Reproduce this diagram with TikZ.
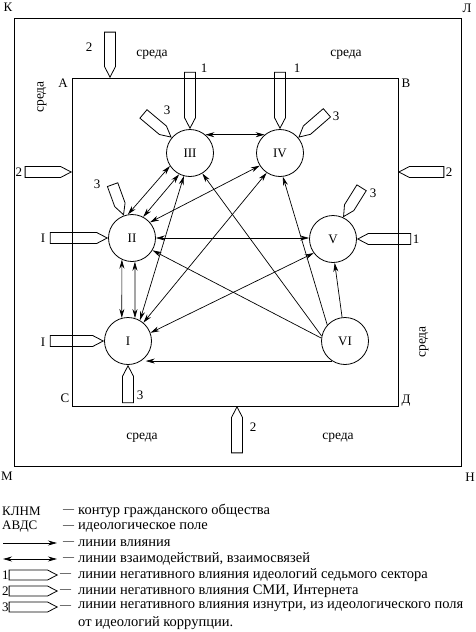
\documentclass[tikz,border=0pt]{standalone}
\usepackage{fontspec}
\setmainfont{Liberation Serif}
\usetikzlibrary{arrows.meta, shapes.arrows}

\tikzset{every node/.append style={align=center}}
\tikzset{
  sect/.style={circle, draw, line width=0.8pt, minimum size=47pt, inner sep=0pt,
    font=\fontsize{13}{15}\selectfont},
  neg/.style={single arrow, draw, line width=0.8pt, minimum width=11pt, inner sep=0pt,
    single arrow head extend=0pt, single arrow tip angle=55},
  infl/.style={-{Stealth[length=9pt,width=5pt]}, line width=0.7pt},
  link/.style={{Stealth[length=9pt,width=5pt]}-{Stealth[length=9pt,width=5pt]}, line width=0.7pt},
  frame/.style={line width=0.9pt},
  lbl/.style={font=\fontsize{13}{15}\selectfont, inner sep=0pt},
  env/.style={font=\fontsize{13.5}{16}\selectfont, inner sep=0pt},
  leg/.style={font=\fontsize{13}{15}\selectfont, inner sep=0pt, anchor=west},
  legdash/.style={font=\fontsize{11}{15}\selectfont, inner sep=0pt, anchor=west},
  legtxt/.style={font=\fontsize{14.5}{16}\selectfont, inner sep=0pt, anchor=west}
}

\begin{document}
\begin{tikzpicture}[x=1pt, y=-1pt]
  \useasboundingbox (0,0) rectangle (476,632);
  % contours
  \coordinate (K) at (14,18);
  \coordinate (N) at (461,466);
  \coordinate (A) at (72,78);
  \coordinate (D) at (398,406);
  \draw[frame] (K) rectangle (N);
  \draw[frame] (A) rectangle (D);
  \node[lbl] (tK) at (8,7) {К};
  \node[lbl] (tL) at (467,8) {Л};
  \node[lbl] (tM) at (7,476) {М};
  \node[lbl] (tN) at (470,477) {Н};
  \node[lbl] (tA) at (63,83) {А};
  \node[lbl] (tB) at (406,83) {В};
  \node[lbl] (tC) at (65,398) {С};
  \node[lbl] (tD) at (406,401) {Д};
  \node[env] (e1) at (152,55) {среда};
  \node[env] (e2) at (346,55) {среда};
  \node[env, rotate=90] (e3) at (42,97) {среда};
  \node[env, rotate=90] (e4) at (424,342) {среда};
  \node[env] (e5) at (142,438) {среда};
  \node[env] (e6) at (338,438) {среда};

  % sectors
  \node[sect] (III) at (190,153) {III};
  \node[sect] (IV) at (280,153) {IV};
  \node[sect] (II) at (132,238) {II};
  \node[sect] (V) at (333,239) {V};
  \node[sect] (I) at (128,341) {I};
  \node[sect] (VI) at (345,341) {VI};

  % interactions
  \draw[link] (III.50) -- (IV.130);
  \draw[link] (II.100) -- (III.213);
  \draw[link] (II.62) -- (III.243);
  \draw[link] (I.60) -- (III.255);
  \draw[link] (I.50) -- (IV.236);
  \draw[link] (II.41) -- (IV.212);
  \draw[link] (II.east) -- (II.east -| V.west);
  \draw[link] (I.20) -- (V.216);
  \draw[link] (II.245) -- (I.105);
  \draw[link] (II.277) -- (I.73);
  % influence
  \draw[infl] (VI.237) -- (VI.237 -| I.-42);
  \draw[infl] (VI.173) -- (II.-31);
  \draw[infl] (VI.168) -- (III.301);
  \draw[infl] (VI.138) -- (IV.277);
  \draw[infl] (VI.97) -- (V.274);

  % negative influence 1
  \node[neg, minimum height=56pt, rotate=-90, anchor=tip] (n1a) at (III.north) {};
  \node[neg, minimum height=56pt, rotate=-90, anchor=tip] (n1b) at (IV.north) {};
  \node[neg, minimum height=57pt, anchor=tip] (n1c) at (II.west) {};
  \node[neg, minimum height=53pt, anchor=tip] (n1d) at (I.west) {};
  \node[neg, minimum height=53pt, rotate=180, anchor=tip] (n1e) at (V.east) {};
  \node[lbl] (l1a) at (204,68) {1};
  \node[lbl] (l1b) at (297,68) {1};
  \node[lbl] (l1c) at (43,238) {I};
  \node[lbl] (l1d) at (43,342) {I};
  \node[lbl] (l1e) at (416,239) {1};
  % negative influence 2
  \node[neg, minimum height=45pt, rotate=-90, anchor=tip] (n2a) at (110,78) {};
  \node[neg, minimum height=46pt, anchor=tip] (n2b) at (72,172) {};
  \node[neg, minimum height=45pt, rotate=180, anchor=tip] (n2c) at (398,172) {};
  \node[neg, minimum height=46pt, rotate=90, anchor=tip] (n2d) at (237,406) {};
  \node[lbl] (l2a) at (89,47) {2};
  \node[lbl] (l2b) at (19,172) {2};
  \node[lbl] (l2c) at (449,172) {2};
  \node[lbl] (l2d) at (253,427) {2};
  % negative influence 3
  \node[neg, minimum height=36pt, rotate=-40, anchor=tip] (n3a) at (III.140) {};
  \node[neg, minimum height=37pt, rotate=221, anchor=tip] (n3b) at (IV.40) {};
  \node[neg, minimum height=32pt, rotate=-70, anchor=tip] (n3c) at (II.110) {};
  \node[neg, minimum height=34pt, rotate=238, anchor=tip] (n3d) at (V.65) {};
  \node[neg, minimum height=37pt, rotate=90, anchor=tip] (n3e) at (I.south) {};
  \node[lbl] (l3a) at (167,110) {3};
  \node[lbl] (l3b) at (336,116) {3};
  \node[lbl] (l3c) at (97,184) {3};
  \node[lbl] (l3d) at (373,193) {3};
  \node[lbl] (l3e) at (140,395) {3};

  % legend
  \node[leg] (k1) at (2,511) {КЛНМ};
  \node[leg] (k2) at (2,527) {АВДС};
  \coordinate (k3a) at (3,543);
  \coordinate (k3b) at (57,543);
  \draw[infl] (k3a) -- (k3b);
  \coordinate (k4a) at (3,559);
  \coordinate (k4b) at (57,559);
  \draw[link] (k4a) -- (k4b);
  \node[leg] (k5) at (2,575) {1};
  \node[neg, minimum height=48pt, minimum width=10pt, anchor=tip] (k5p) at (58,575) {};
  \node[leg] (k6) at (2,591) {2};
  \node[neg, minimum height=48pt, minimum width=10pt, anchor=tip] (k6p) at (58,591) {};
  \node[leg] (k7) at (2,607) {3};
  \node[neg, minimum height=48pt, minimum width=10pt, anchor=tip] (k7p) at (58,607) {};
  \foreach \y/\n in {511/1,527/2,543/3,559/4} \node[legdash] (d\n) at (63,\y) {—};
  \foreach \y/\n in {575/5,591/6,607/7} \node[legdash] (d\n) at (60,\y) {—};
  \node[legtxt] (t1) at (78,511) {контур гражданского общества};
  \node[legtxt] (t2) at (78,527) {идеологическое поле};
  \node[legtxt] (t3) at (78,543) {линии влияния};
  \node[legtxt] (t4) at (78,559) {линии взаимодействий, взаимосвязей};
  \node[legtxt] (t5) at (78,575) {линии негативного влияния идеологий седьмого сектора};
  \node[legtxt] (t6) at (78,591) {линии негативного влияния СМИ, Интернета};
  \node[legtxt] (t7) at (78,607) {линии негативного влияния изнутри, из идеологического поля};
  \node[legtxt] (t8) at (78,623) {от идеологий коррупции.};
\end{tikzpicture}
\end{document}
